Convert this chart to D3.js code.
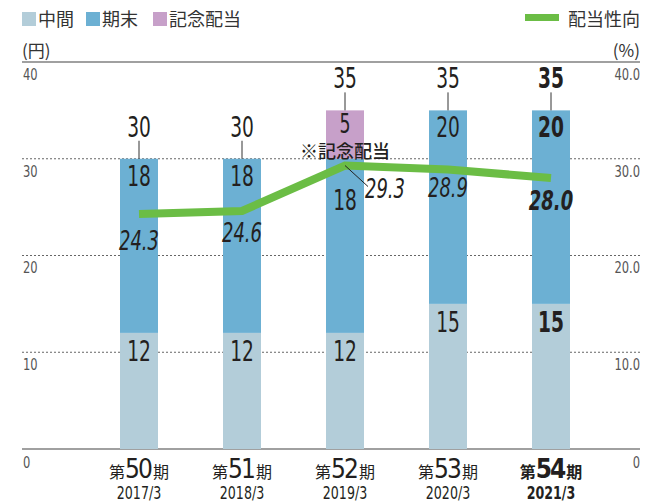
<!DOCTYPE html>
<html><head><meta charset="utf-8">
<script src="https://cdn.jsdelivr.net/npm/d3@7/dist/d3.min.js"></script>
<style>
body{margin:0;background:#fff;}
svg{display:block;}
.num{font-family:"Liberation Sans Narrow","DejaVu Sans Condensed","Roboto",sans-serif;}
.jp{font-family:"Noto Sans CJK JP",sans-serif;}
</style></head>
<body><svg id="c" width="664" height="502"></svg>
<script>
const periods = ["第50期","第51期","第52期","第53期","第54期"];
const periodNums = ["50","51","52","53","54"];
const years = ["2017/3","2018/3","2019/3","2020/3","2021/3"];
const interim = [12,12,12,15,15];
const yearEnd = [18,18,18,20,20];
const commemorative = [0,0,5,0,0];
const payoutRatio = [24.3,24.6,29.3,28.9,28.0];
const leftTicks = [40,30,20,10,0];
const rightTickLabels = ["40.0","30.0","20.0","10.0","0"];
const highlight = [false,false,false,false,true];

const colors = {interim:"#b3cdd9", yearEnd:"#6cb0d3", comm:"#c7a0c9", line:"#6bbd45", text:"#231f20", axis:"#808080"};

const svg = d3.select("#c");
const mLeft = 22, mRight = 640, mTop = 62, mBottom = 449;
const y = d3.scaleLinear().domain([0,40]).range([mBottom, mTop]);
const yR = d3.scaleLinear().domain([0,40]).range([mBottom, mTop]);
const x = d3.scalePoint().domain(periods).range([139, 551]);
const bw = 38;
const sx = 0.74;
const squeeze = (sel, cx, k) => sel.attr("transform", `translate(${cx},0) scale(${k},1) translate(${-cx},0)`);

// gridlines
svg.append("g").selectAll("line").data([30,20,10]).join("line")
  .attr("x1", mLeft).attr("x2", mRight).attr("y1", d=>y(d)).attr("y2", d=>y(d))
  .attr("stroke", "#666").attr("stroke-width", 1).attr("stroke-dasharray", "2,2");

// axis lines
svg.append("line").attr("x1", mLeft).attr("x2", mRight).attr("y1", y(40)).attr("y2", y(40))
  .attr("stroke", colors.axis).attr("stroke-width", 1.5);
svg.append("line").attr("x1", mLeft).attr("x2", mRight).attr("y1", y(0)).attr("y2", y(0))
  .attr("stroke", colors.axis).attr("stroke-width", 1.5);

// tick labels
svg.append("g").selectAll("text").data(leftTicks).join("text")
  .attr("class","num").attr("x", mLeft+1).attr("y", d=>y(d)+ (d===0?19:18))
  .attr("font-size", 16).attr("fill", "#555")
  .attr("transform", `translate(${mLeft+1},0) scale(0.8,1) translate(${-(mLeft+1)},0)`).text(d=>d);
svg.append("g").selectAll("text").data(rightTickLabels).join("text")
  .attr("class","num").attr("x", mRight).attr("text-anchor","end")
  .attr("y", (d,i)=>yR(leftTicks[i]) + (leftTicks[i]===0?19:18))
  .attr("font-size", 16).attr("fill", "#555")
  .attr("transform", `translate(${mRight},0) scale(0.8,1) translate(${-mRight},0)`).text(d=>d);

// bars
const g = svg.append("g");
periods.forEach((p,i)=>{
  const cx = x(p);
  g.append("rect").attr("x", cx-bw/2).attr("width", bw)
    .attr("y", y(interim[i])).attr("height", y(0)-y(interim[i])).attr("fill", colors.interim);
  g.append("rect").attr("x", cx-bw/2).attr("width", bw)
    .attr("y", y(interim[i]+yearEnd[i])).attr("height", y(interim[i])-y(interim[i]+yearEnd[i])).attr("fill", colors.yearEnd);
  if (commemorative[i] > 0) {
    const t = interim[i]+yearEnd[i];
    g.append("rect").attr("x", cx-bw/2).attr("width", bw)
      .attr("y", y(t+commemorative[i])).attr("height", y(t)-y(t+commemorative[i])).attr("fill", colors.comm);
  }
});

// segment labels
periods.forEach((p,i)=>{
  const cx = x(p);
  const bold = highlight[i] ? 700 : 400;
  const total = interim[i]+yearEnd[i]+commemorative[i];
  const seg = (val, topVal, dy, fs=28) => squeeze(g.append("text").attr("class","num")
    .attr("x", cx).attr("y", y(topVal)+dy).attr("text-anchor","middle")
    .attr("font-size", fs).attr("font-weight", bold).attr("fill", colors.text), cx, sx).text(val);
  seg(interim[i], interim[i], 28);
  seg(yearEnd[i], interim[i]+yearEnd[i], i===2 ? 51 : 27);
  if (commemorative[i] > 0) seg(commemorative[i], total, 23, 26);
  // total label + tick
  g.append("line").attr("x1", cx).attr("x2", cx).attr("y1", y(total)-18).attr("y2", y(total))
    .attr("stroke", "#333").attr("stroke-width", 1);
  squeeze(g.append("text").attr("class","num").attr("x", cx).attr("y", y(total)-22)
    .attr("text-anchor","middle").attr("font-size", 28).attr("font-weight", bold).attr("fill", colors.text), cx, sx)
    .text(total);
});

// commemorative note
svg.append("text").attr("class","jp").attr("x", 300).attr("y", 158)
  .attr("font-size", 18).attr("font-weight", 500).attr("fill", colors.text).text("※記念配当");

// payout line
const line = d3.line().x((d,i)=>x(periods[i])).y(d=>yR(d));
svg.append("path").datum(payoutRatio).attr("d", line).attr("fill","none")
  .attr("stroke", colors.line).attr("stroke-width", 8).attr("stroke-linejoin","miter");

// leader for 29.3
svg.append("line").attr("x1", x(periods[2])).attr("y1", yR(payoutRatio[2]))
  .attr("x2", x(periods[2])+23).attr("y2", yR(payoutRatio[2])+21)
  .attr("stroke", "#222").attr("stroke-width", 1);

const pctOffsets = [[0,36],[0,31],[40,32],[0,28],[0,32]];
payoutRatio.forEach((v,i)=>{
  const px = x(periods[i]) + pctOffsets[i][0];
  squeeze(svg.append("text").attr("class","num").attr("x", px).attr("y", yR(v)+pctOffsets[i][1])
    .attr("text-anchor","middle").attr("font-size", 27).attr("font-style","italic")
    .attr("font-weight", highlight[i]?700:400).attr("fill", colors.text), px, sx)
    .text(v.toFixed(1));
});

// x labels
periods.forEach((p,i)=>{
  const cx = x(p);
  const w = highlight[i] ? 700 : 400;
  const t = svg.append("text").attr("x", cx).attr("y", 478).attr("text-anchor","middle").attr("fill", colors.text);
  t.append("tspan").attr("class","jp").attr("font-size", 16).attr("font-weight", w).text("第");
  t.append("tspan").attr("class","num").attr("font-size", 26).attr("font-weight", w).attr("letter-spacing",-2).text(periodNums[i]);
  t.append("tspan").attr("class","jp").attr("font-size", 16).attr("font-weight", w).attr("dx", 2).text("期");
  squeeze(svg.append("text").attr("class","num").attr("x", cx).attr("y", 499).attr("text-anchor","middle")
    .attr("font-size", 18).attr("font-weight", w).attr("fill", colors.text), cx, 0.78).text(years[i]);
});

// legend
const legend = [["中間", colors.interim, 22],["期末", colors.yearEnd, 86],["記念配当", colors.comm, 153]];
legend.forEach(([lab,col,lx])=>{
  svg.append("rect").attr("x", lx).attr("y", 12).attr("width", 14).attr("height", 14).attr("fill", col);
  svg.append("text").attr("class","jp").attr("x", lx+16).attr("y", 26).attr("font-size", 18).attr("fill","#333").text(lab);
});
svg.append("line").attr("x1", 525).attr("x2", 559).attr("y1", 17.5).attr("y2", 17.5)
  .attr("stroke", colors.line).attr("stroke-width", 7);
svg.append("text").attr("class","jp").attr("x", 640).attr("y", 26).attr("text-anchor","end")
  .attr("font-size", 18).attr("fill","#333").text("配当性向");
svg.append("text").attr("class","jp").attr("x", 22).attr("y", 57).attr("font-size", 17).attr("fill","#333").text("(円)");
svg.append("text").attr("class","jp").attr("x", 640).attr("y", 57).attr("text-anchor","end").attr("font-size", 17).attr("fill","#333").text("(%)");
</script></body></html>
